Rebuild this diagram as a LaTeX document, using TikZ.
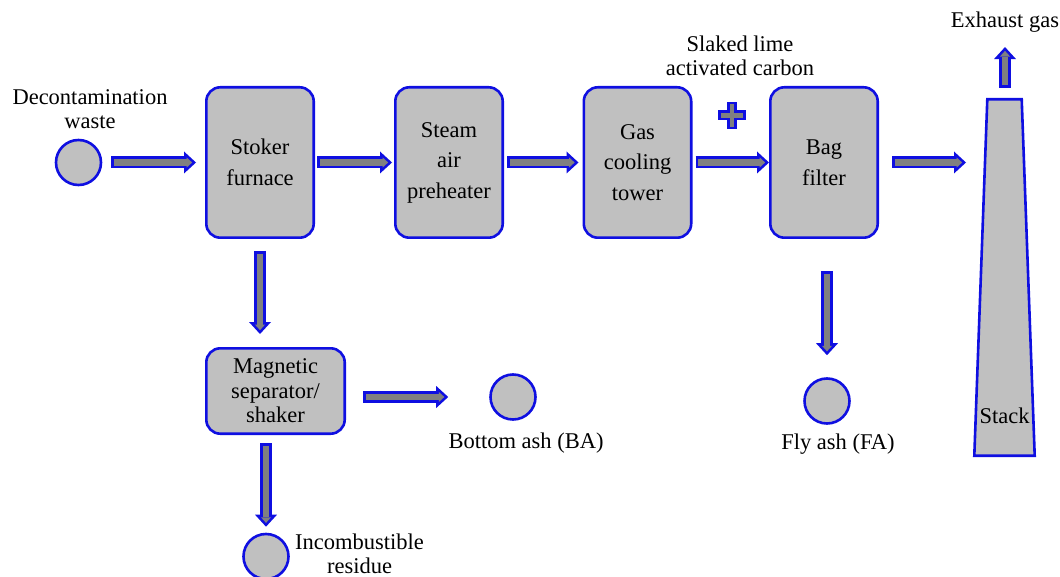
\documentclass[tikz,border=0pt]{standalone}
\usepackage{fontspec}
\setmainfont{Liberation Serif}
\usetikzlibrary{arrows.meta}
\definecolor{flowblue}{RGB}{15,15,225}
\definecolor{boxgray}{RGB}{192,192,192}
\definecolor{pipegray}{RGB}{128,128,128}

\begin{document}
\begin{tikzpicture}[x=1pt, y=-1pt,
  font=\fontsize{22.5}{24}\selectfont,
  unitbox/.style={draw=flowblue, fill=boxgray, line width=2.6pt, rounded corners=14pt,
    minimum width=107.4pt, minimum height=150.4pt, inner sep=0pt, align=center,
    font=\fontsize{22.5}{30.5}\selectfont},
  ashdot/.style={circle, draw=flowblue, fill=boxgray, line width=2.6pt, minimum size=45pt, inner sep=0pt},
  note/.style={align=center, anchor=base, inner sep=0pt},
  pipeout/.style={draw=flowblue, line width=12pt, -{Triangle[length=12pt, width=22pt, line width=0pt]}},
  pipein/.style={draw=pipegray, line width=6.8pt, -{Triangle[length=5.6pt, width=10.2pt, line width=0pt]}}]
		\useasboundingbox (0,0) rectangle (1060,577);
		% stack
		\draw[draw=flowblue, fill=boxgray, line width=2.6pt] (974.3,455.7) -- (987.3,99.3) -- (1021.7,99.3) -- (1034.7,455.7) -- cycle;
		\node[note] (stacklabel) at (1004.5,423) {Stack};
		\coordinate (stackin) at (985,162.5);
		\coordinate (stacktop) at (1005,99);
		% units
		\node[unitbox] (stoker) at (260,162.5) {Stoker\\furnace};
		\node[unitbox] (steam) at (449,162.5) {Steam\\air\\preheater};
		\node[unitbox] (gas) at (637.5,162.5) {Gas\\cooling\\tower};
		\node[unitbox] (bag) at (824,162.5) {Bag\\filter};
		\node[unitbox, minimum width=138.4pt, minimum height=85.4pt, font=\fontsize{22.5}{24.5}\selectfont] (magnet) at (275.5,391) {Magnetic\\separator/\\shaker};
		% streams
		\node[ashdot] (waste) at (78.5,162.5) {};
		\node[ashdot] (ba) at (513,397) {};
		\node[ashdot] (inc) at (266,556.5) {};
		\node[ashdot] (fa) at (827,401) {};
		\node[note] (wastelabel) at (90,129) {Decontamination\\waste};
		\node[note] (balabel) at (526,448) {Bottom ash (BA)};
		\node[note] (inclabel) at (359.5,573) {Incombustible\\residue};
		\node[note] (falabel) at (838,449) {Fly ash (FA)};
		\node[note] (lime) at (740,76) {Slaked lime\\activated carbon};
		\node[note] (exhaust) at (1005,28) {Exhaust gas};
		% plus sign
		\draw[draw=flowblue, fill=pipegray, line width=2.6pt, shift={(732,115.5)}]
		(-3.7,-12.4) -- (3.7,-12.4) -- (3.7,-3.7) -- (12.4,-3.7) -- (12.4,3.7) -- (3.7,3.7)
		-- (3.7,12.4) -- (-3.7,12.4) -- (-3.7,3.7) -- (-12.4,3.7) -- (-12.4,-3.7) -- (-3.7,-3.7) -- cycle;
		% arrows
		\coordinate (magin) at ([xshift=-15.5pt]magnet.north);
		\coordinate (magside) at ([yshift=-6pt]magnet.east);
		\coordinate (magout) at ([xshift=-9.5pt]magnet.south);
		\coordinate (bagout) at (bag.south -| fa);
		\foreach \from/\to/\gapa/\gapb in {waste/stoker/9pt/9pt, stoker/steam/2pt/2pt, steam/gas/3pt/4pt,
		  gas/bag/3pt/0pt, bag/stackin/13pt/19pt, stoker/magin/12pt/13pt, magside/ba/17pt/41pt,
		  magout/inc/8pt/6pt, bagout/fa/32pt/22pt, stacktop/exhaust/11pt/14pt} {
		  \draw[pipeout, shorten <=\gapa, shorten >=\gapb] (\from) -- (\to);
		  \draw[pipein, shorten <=\gapa+2.6pt, shorten >=\gapb+3.85pt] (\from) -- (\to);
		}
	\end{tikzpicture}
\end{document}
